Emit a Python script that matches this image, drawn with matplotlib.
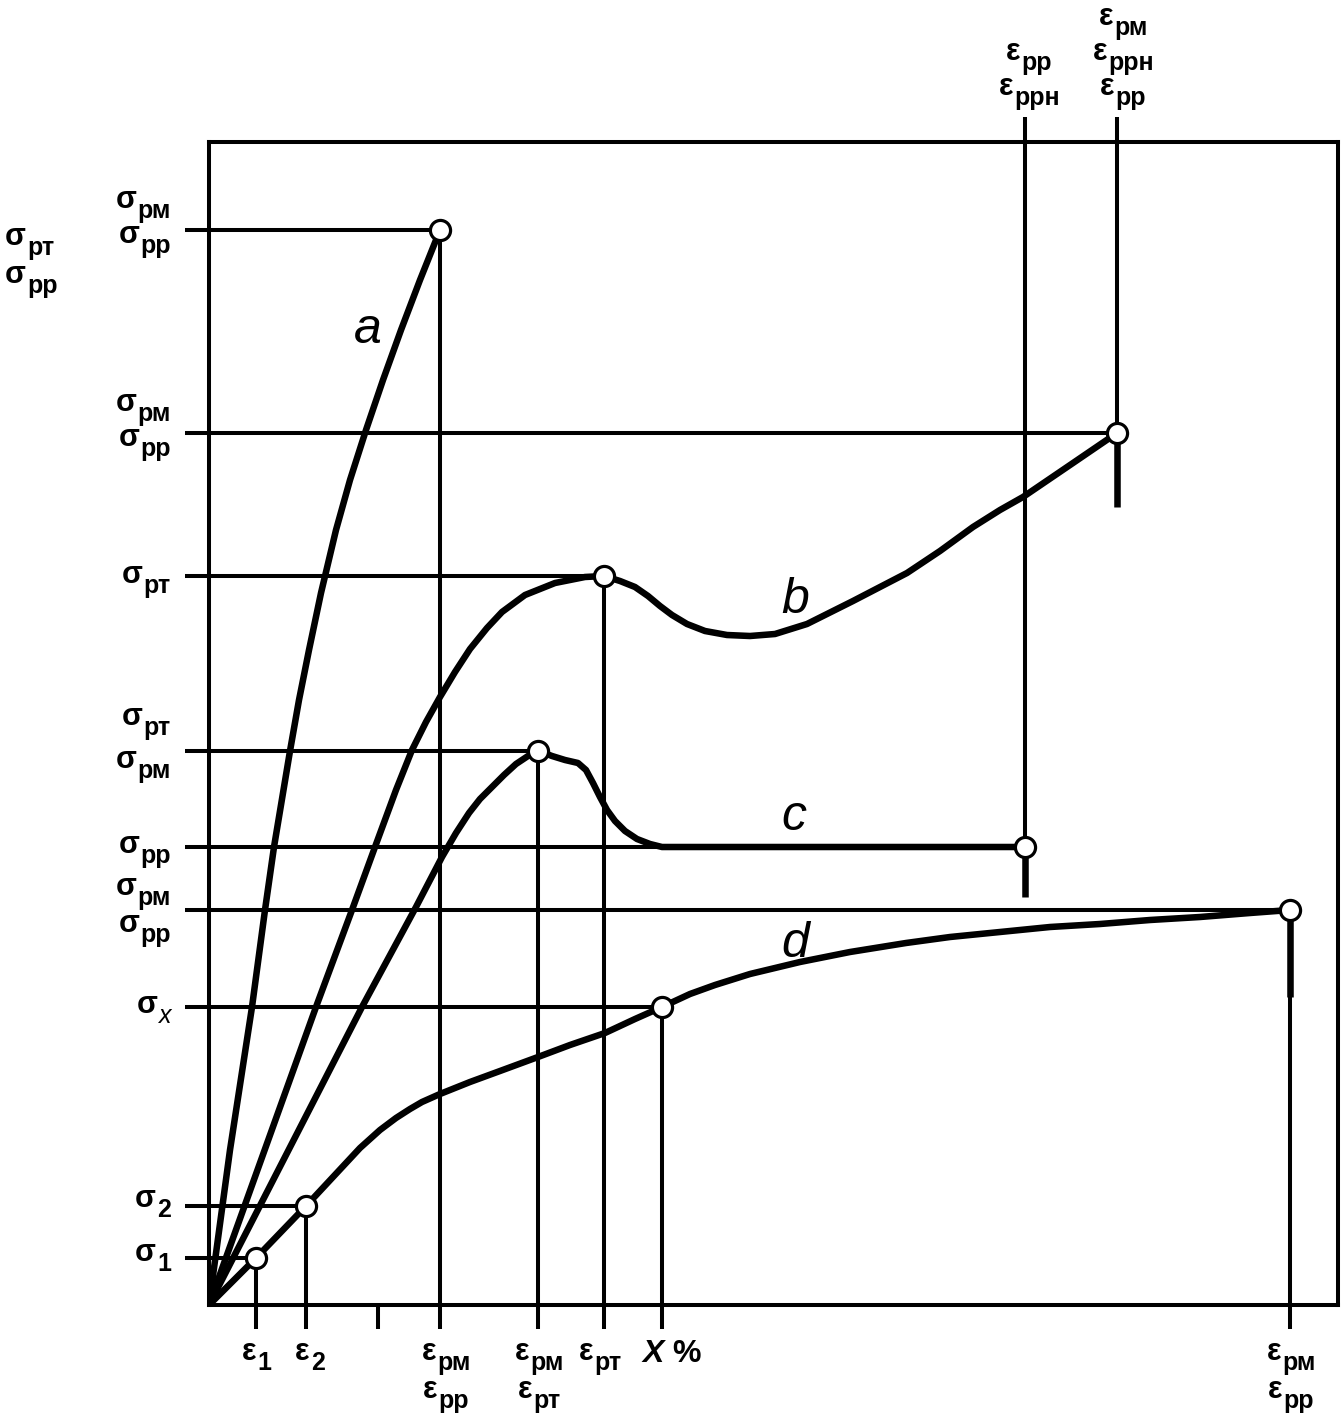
import matplotlib
matplotlib.use('Agg')
import matplotlib.pyplot as plt

plt.rcParams['font.family'] = ['Liberation Sans', 'DejaVu Sans']
plt.rcParams['mathtext.fontset'] = 'custom'
plt.rcParams['mathtext.rm'] = 'Liberation Sans:bold'
plt.rcParams['mathtext.it'] = 'Liberation Sans:italic:bold'

# кривые растяжения (деформация, напряжение) в условных единицах
a_eps = [0, 21, 43, 56, 65, 81, 90, 100, 112, 127, 141, 157, 174, 192, 211, 231]
a_sig = [0, 155, 298, 395, 458, 554, 605, 655, 712, 775, 825, 875, 925, 975, 1025, 1075]

b_eps = [0, 107, 143, 166, 187, 203, 217, 231, 246, 261, 278, 293, 316, 346, 376, 395,
         411, 426, 439, 451, 463, 478, 496, 518, 541, 566, 598, 644, 698, 731, 764, 791,
         814, 839, 864, 886, 908]
b_sig = [0, 298, 395, 458, 515, 555, 583, 608, 633, 656, 677, 693, 710, 722, 728, 729,
         724, 718, 709, 699, 690, 681, 674, 670, 669, 671, 681, 704, 732, 754, 778, 795,
         808, 825, 842, 857, 872]

c_eps = [0, 153, 180, 207, 233, 247, 260, 271, 283, 295, 307, 319, 330, 343, 356, 369,
         377, 384, 391, 398, 406, 416, 428, 441, 453, 816]
c_sig = [0, 298, 348, 398, 448, 472, 492, 506, 518, 530, 541, 549, 554, 549, 545, 542,
         535, 522, 508, 495, 484, 474, 466, 461, 458, 458]

d_eps = [0, 47, 97, 124, 151, 171, 187, 201, 213, 231, 261, 291, 329, 361, 396, 426,
         453, 481, 506, 541, 591, 641, 697, 741, 791, 841, 891, 941, 991, 1041, 1081]
d_sig = [0, 47, 99, 128, 157, 175, 187, 196, 203, 211, 223, 234, 248, 260, 272, 286,
         298, 311, 320, 331, 343, 353, 362, 368, 373, 378, 381, 385, 388, 392, 395]

# характерные точки (кружки)
pt_eps = [231, 395, 908, 329, 816, 1081, 453, 97, 47]
pt_sig = [1075, 729, 872, 554, 458, 395, 298, 99, 47]

# горизонтальные линии уровней напряжений
h_sig = [1075, 872, 729, 554, 458, 395, 298, 99, 47]
h_end = [231, 908, 395, 329, 816, 1081, 453, 97, 47]

# вертикальные линии деформаций (вниз до оси)
v_eps = [47, 97, 169, 231, 329, 395, 453, 1081]
v_top = [47, 99, 0, 1075, 554, 729, 298, 395]

# вертикали сверху и утолщённые отметки разрыва
top_eps = [816, 908]
top_sig = [458, 872]
stub_eps = [816, 908, 1081]
stub_top = [458, 872, 395]
stub_bot = [408, 798, 308]

fig = plt.figure(figsize=(13.44, 14.22), dpi=100)
ax = fig.add_axes([209 / 1344, 117 / 1422, 1129 / 1344, 1163 / 1422])
ax.set_xlim(0, 1129)
ax.set_ylim(0, 1163)
ax.set_xticks([])
ax.set_yticks([])
for sp in ax.spines.values():
    sp.set_linewidth(2.9)

thin = 2.9
thick = 4.7
ov = 24

for y, xe in zip(h_sig, h_end):
    ax.plot([-ov, xe], [y, y], color='k', lw=thin, clip_on=False, solid_capstyle='butt', zorder=2)
for x, yt in zip(v_eps, v_top):
    ax.plot([x, x], [yt, -ov], color='k', lw=thin, clip_on=False, solid_capstyle='butt', zorder=2)
for x, yb in zip(top_eps, top_sig):
    ax.plot([x, x], [1188, yb], color='k', lw=thin, clip_on=False, solid_capstyle='butt', zorder=2)
for x, yt, yb in zip(stub_eps, stub_top, stub_bot):
    ax.plot([x, x], [yt, yb], color='k', lw=thick, solid_capstyle='butt', zorder=3)

for xs, ys in [(a_eps, a_sig), (b_eps, b_sig), (c_eps, c_sig), (d_eps, d_sig)]:
    ax.plot(xs, ys, color='k', lw=thick, solid_joinstyle='round', solid_capstyle='round', zorder=4)

ax.plot(pt_eps, pt_sig, 'o', ms=14.5, mfc='white', mec='k', mew=2.3, zorder=5)

# подписи с индексами: символ + индекс отдельными текстами
fs_main = 22
fs_sub = 18
renderer = fig.canvas.get_renderer()


def label(x, y, main, sub, ha='center', sub_style='normal', sub_weight='bold'):
    t1 = ax.text(0, 0, main, fontsize=fs_main, fontweight='bold', va='baseline', ha='left', clip_on=False)
    t2 = ax.text(0, 0, sub, fontsize=fs_sub, fontweight=sub_weight, style=sub_style,
                 va='baseline', ha='left', clip_on=False)
    w1 = t1.get_window_extent(renderer).width
    w2 = t2.get_window_extent(renderer).width
    gap = 1
    total = w1 + gap + w2
    if ha == 'right':
        x0 = x - total
    elif ha == 'center':
        x0 = x - total / 2
    else:
        x0 = x
    t1.set_position((x0, y))
    t2.set_position((x0 + w1 + gap, y - 10))


left_labels = [
    ('рм', 1097), ('рр', 1062),
    ('рм', 894), ('рр', 859),
    ('рт', 722),
    ('рт', 580), ('рм', 537),
    ('рр', 452),
    ('рм', 410), ('рр', 373),
    ('2', 98), ('1', 44),
]
for sub, y in left_labels:
    label(-38, y, 'σ', sub, ha='right')
label(-38, 292, 'σ', 'x', ha='right', sub_style='italic', sub_weight='normal')

label(-204, 1060, 'σ', 'рт', ha='left')
label(-204, 1022, 'σ', 'рр', ha='left')

bottom_labels = [
    (48, ['1']), (101, ['2']),
    (237, ['рм', 'рр']),
    (330, ['рм', 'рт']),
    (391, ['рт']),
    (1082, ['рм', 'рр']),
]
for x, subs in bottom_labels:
    for i, sub in enumerate(subs):
        label(x, -55 - 38 * i, 'ε', sub)
ax.text(463, -57, r'$\mathit{X}$ %', ha='center', va='baseline', fontsize=fs_main + 1,
        fontweight='bold', clip_on=False)

top_labels = [
    (820, ['рр', 'ррн']),
    (914, ['рм', 'ррн', 'рр']),
]
for x, subs in top_labels:
    n = len(subs)
    for i, sub in enumerate(subs):
        label(x, 1210 + 35 * (n - 1 - i), 'ε', sub)

for txt, x, y in [('a', 159, 962), ('b', 586, 692), ('c', 585, 475), ('d', 586, 348)]:
    ax.text(x, y, txt, ha='center', va='baseline', fontsize=36, style='italic', clip_on=False)

fig.savefig('out.png', dpi=100, facecolor='white')
